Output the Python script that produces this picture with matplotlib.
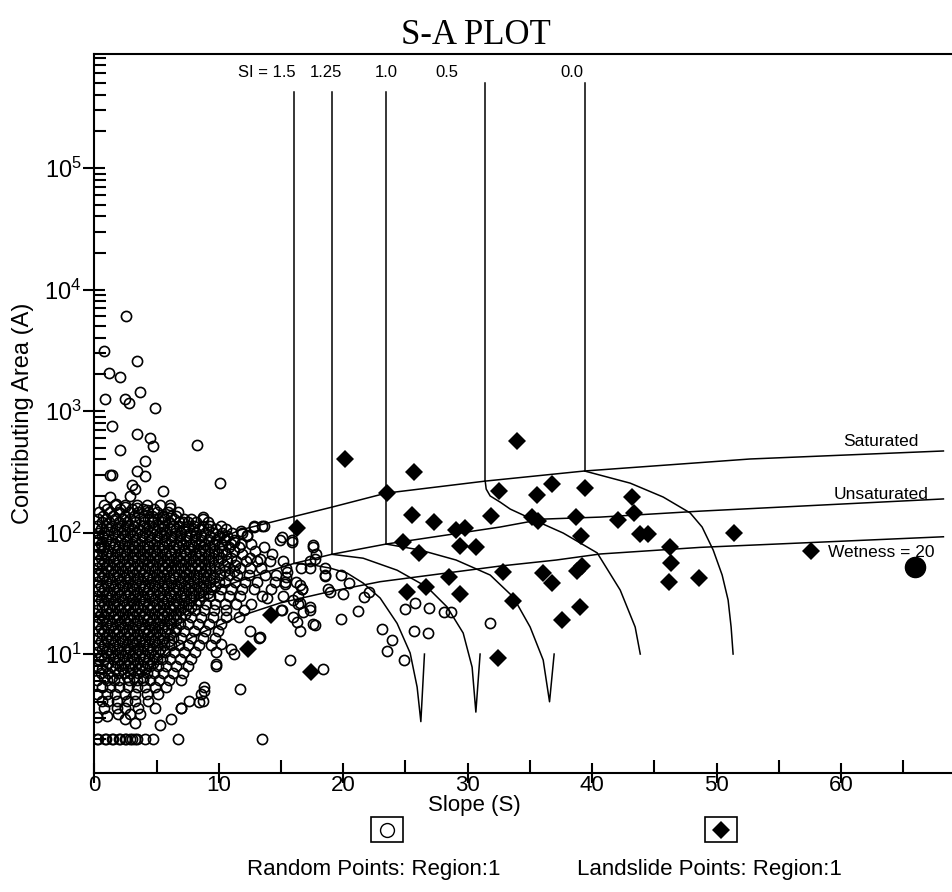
import matplotlib.pyplot as plt
import numpy as np
from matplotlib.ticker import LogLocator, NullFormatter, MultipleLocator
from matplotlib.patches import Rectangle
from matplotlib.lines import Line2D

plt.rcParams['font.family'] = ['Liberation Sans', 'DejaVu Sans']
plt.rcParams['mathtext.fontset'] = 'custom'
plt.rcParams['mathtext.rm'] = 'Liberation Sans'

# ---- random points: dense cluster, one row per contributing-area level ----
cluster_rows = [
    (168, [0.8, 1.7, 2.5, 3.4, 4.2, 5.3, 6.1]),
    (156, [1.0, 2.1, 3.0, 3.9, 4.8]),
    (148, [0.4, 1.3, 2.0, 2.8, 3.5, 4.3, 5.0, 5.9, 6.7]),
    (137, [0.7, 1.5, 2.5, 3.2, 4.0, 4.6, 5.5, 6.2]),
    (129, [0.3, 0.9, 1.7, 2.3, 2.9, 3.7, 4.3, 5.1, 5.7, 6.4, 7.2, 7.8, 8.7]),
    (121, [0.6, 1.2, 2.0, 2.6, 3.3, 4.0, 4.6, 5.4, 6.0, 6.8, 7.5, 8.2, 9.1]),
    (113, [0.2, 0.9, 1.4, 2.1, 2.7, 3.2, 3.9, 4.4, 5.1, 5.6, 6.3, 6.8, 7.5, 8.0, 8.7, 9.3, 10.2, 12.8, 13.5]),
    (106, [0.5, 1.2, 1.8, 2.4, 3.0, 3.6, 4.2, 4.8, 5.4, 6.1, 6.6, 7.2, 7.9, 8.4, 9.1, 9.8, 10.6]),
    (99, [0.3, 0.8, 1.6, 2.2, 2.9, 3.4, 4.1, 4.6, 5.3, 5.8, 6.5, 7.0, 7.7, 8.2, 8.9, 9.5, 10.3, 11.1, 11.9]),
    (93, [0.6, 1.1, 1.9, 2.5, 3.1, 3.8, 4.4, 5.0, 5.6, 6.2, 6.9, 7.4, 8.1, 8.6, 9.3, 10.0, 10.7, 12.3]),
    (87, [0.2, 0.9, 1.4, 2.1, 2.6, 3.3, 3.8, 4.5, 5.0, 5.7, 6.2, 6.9, 7.4, 8.1, 8.6, 9.2, 9.8, 10.5, 11.2, 14.9, 15.9]),
    (81, [0.5, 1.2, 1.7, 2.4, 3.0, 3.6, 4.2, 4.8, 5.4, 6.0, 6.6, 7.1, 7.8, 8.4, 8.9, 9.6, 10.3, 11.0, 11.8, 12.6]),
    (76, [0.3, 0.8, 1.5, 2.0, 2.7, 3.3, 3.9, 4.4, 5.1, 5.6, 6.3, 6.8, 7.5, 8.0, 8.7, 9.3, 10.0, 10.8, 11.6, 13.6, 17.6]),
    (71, [0.6, 1.1, 1.8, 2.4, 3.0, 3.6, 4.2, 4.8, 5.4, 6.0, 6.5, 7.2, 7.7, 8.4, 8.9, 9.6, 10.3, 11.2, 12.9]),
    (67, [0.2, 0.9, 1.4, 2.1, 2.6, 3.3, 3.9, 4.5, 5.0, 5.7, 6.2, 6.9, 7.4, 8.1, 8.6, 9.2, 9.9, 10.6, 11.9, 14.3, 17.8]),
    (62, [0.5, 1.1, 1.7, 2.3, 3.0, 3.5, 4.1, 4.7, 5.3, 5.9, 6.6, 7.1, 7.7, 8.3, 8.9, 9.5, 10.2, 11.0, 12.5]),
    (58, [0.3, 0.8, 1.5, 2.0, 2.6, 3.2, 3.8, 4.4, 5.0, 5.6, 6.2, 6.8, 7.4, 8.0, 8.6, 9.2, 9.9, 10.7, 11.4, 12.2, 13.1, 14.1, 15.2, 17.3]),
    (54, [0.6, 1.2, 1.8, 2.4, 2.9, 3.5, 4.2, 4.7, 5.4, 5.9, 6.5, 7.1, 7.8, 8.3, 8.9, 9.6, 10.4, 11.3]),
    (51, [0.2, 0.9, 1.4, 2.1, 2.7, 3.3, 3.8, 4.5, 5.1, 5.7, 6.2, 6.9, 7.5, 8.1, 8.6, 9.3, 10.0, 10.8, 11.7, 12.5, 13.4, 15.4, 16.6, 18.5]),
    (48, [0.5, 1.1, 1.7, 2.3, 3.0, 3.6, 4.1, 4.8, 5.4, 5.9, 6.6, 7.2, 7.7, 8.4, 9.0, 9.7, 10.5, 11.2]),
    (45, [0.3, 0.8, 1.5, 2.0, 2.6, 3.2, 3.9, 4.4, 5.0, 5.6, 6.3, 6.8, 7.4, 8.0, 8.7, 9.3, 10.1, 10.8, 11.5, 12.4, 13.7, 14.6, 18.5, 19.8]),
    (42, [0.6, 1.2, 1.8, 2.4, 2.9, 3.5, 4.2, 4.7, 5.3, 6.0, 6.5, 7.1, 7.7, 8.3, 9.0, 9.6]),
    (39, [0.2, 0.9, 1.4, 2.1, 2.7, 3.3, 3.8, 4.5, 5.1, 5.6, 6.2, 6.9, 7.5, 8.0, 8.7, 9.3, 10.0, 10.5, 11.3, 12.1, 13.1, 14.5, 15.3, 16.2]),
    (36.5, [0.5, 1.1, 1.7, 2.3, 3.0, 3.6, 4.1, 4.8, 5.4, 5.9, 6.6, 7.2, 7.8, 8.4, 9.0, 9.7]),
    (34, [0.3, 0.8, 1.5, 2.0, 2.6, 3.2, 3.9, 4.4, 5.0, 5.6, 6.3, 6.8, 7.5, 8.1, 8.7, 9.4, 10.2, 11.0, 11.9, 12.8, 14.2, 16.7, 18.8]),
    (32, [0.6, 1.2, 1.8, 2.4, 2.9, 3.5, 4.2, 4.7, 5.3, 6.0, 6.5, 7.1, 7.8, 8.4, 9.1]),
    (30, [0.2, 0.9, 1.4, 2.1, 2.7, 3.3, 3.8, 4.5, 5.1, 5.6, 6.2, 6.9, 7.4, 8.0, 8.7, 9.3, 10.0, 10.8, 11.7, 13.5, 15.2, 16.4]),
    (28, [0.5, 1.1, 1.7, 2.3, 3.0, 3.6, 4.1, 4.8, 5.4, 5.9, 6.6, 7.2, 7.8, 8.4]),
    (26, [0.3, 0.8, 1.5, 2.0, 2.6, 3.2, 3.9, 4.4, 5.0, 5.6, 6.3, 6.8, 7.5, 8.2, 9.0, 9.7, 10.5, 11.4, 12.6, 16.4]),
    (24.5, [0.6, 1.2, 1.8, 2.4, 2.9, 3.5, 4.2, 4.7, 5.3, 6.0, 6.5, 7.1, 7.8]),
    (23, [0.2, 0.9, 1.4, 2.1, 2.7, 3.3, 3.8, 4.5, 5.1, 5.6, 6.2, 6.9, 7.5, 8.1, 8.8, 9.6, 10.6, 12.0, 17.3]),
    (21.5, [0.5, 1.1, 1.7, 2.3, 3.0, 3.6, 4.1, 4.8, 5.4, 5.9, 6.6, 7.3]),
    (20, [0.3, 0.8, 1.5, 2.0, 2.6, 3.2, 3.9, 4.4, 5.0, 5.6, 6.3, 6.9, 7.8, 8.6, 9.5, 10.6, 11.6, 16.0]),
    (19, [0.6, 1.2, 1.8, 2.4, 2.9, 3.5, 4.2, 4.7, 5.3, 6.0, 6.6]),
    (17.7, [0.2, 0.9, 1.4, 2.1, 2.7, 3.3, 3.8, 4.5, 5.1, 5.6, 6.2, 6.9, 7.5, 8.3, 9.2, 10.2, 17.6]),
    (16.5, [0.5, 1.1, 1.7, 2.3, 3.0, 3.6, 4.1, 4.8, 5.4, 5.9, 6.6]),
    (15.5, [0.3, 0.8, 1.5, 2.0, 2.6, 3.2, 3.9, 4.4, 5.0, 5.7, 6.5, 7.2, 8.0, 8.9, 9.9, 12.5]),
    (14.5, [0.6, 1.2, 1.8, 2.4, 2.9, 3.5, 4.2, 4.7, 5.3, 6.1]),
    (13.5, [0.2, 0.9, 1.4, 2.1, 2.7, 3.3, 3.8, 4.5, 5.1, 5.6, 6.3, 7.0, 7.8, 8.7, 9.7]),
    (12.7, [0.5, 1.1, 1.7, 2.3, 3.0, 3.6, 4.1, 4.8, 5.4, 6.0]),
    (11.9, [0.3, 0.8, 1.5, 2.0, 2.6, 3.2, 3.9, 4.4, 5.0, 5.6, 6.2, 6.8, 7.5, 8.4, 9.4]),
    (11.1, [0.6, 1.2, 1.8, 2.4, 2.9, 3.5, 4.2, 4.7, 5.3]),
    (10.4, [0.2, 0.9, 1.4, 2.1, 2.7, 3.3, 3.8, 4.5, 5.1, 5.7, 6.4, 7.2, 8.1, 9.8]),
    (9.7, [0.5, 1.1, 1.7, 2.3, 3.0, 3.6, 4.1, 4.8]),
    (9.1, [0.3, 0.8, 1.5, 2.0, 2.6, 3.2, 3.9, 4.4, 5.0, 5.4, 6.1, 6.9, 7.8]),
    (8.5, [1.1, 1.8, 2.4, 2.9, 3.5, 4.2, 4.7]),
    (8.0, [0.2, 0.9, 1.4, 2.1, 2.7, 3.3, 3.8, 4.5, 5.1, 5.8, 6.6, 7.5, 9.8]),
    (7.5, [0.6, 1.7, 2.3, 3.0, 3.6, 4.1]),
    (7.0, [0.5, 1.1, 1.9, 2.4, 2.9, 3.5, 4.2, 4.8, 5.5, 6.3, 7.1]),
    (6.5, [0.8, 1.4, 2.6, 3.2, 3.9]),
    (6.1, [0.2, 1.0, 1.6, 2.0, 2.8, 3.4, 3.9, 4.5, 5.2, 6.0, 7.0]),
    (5.4, [0.6, 1.3, 2.0, 2.7, 3.4, 4.1, 4.9, 5.8, 8.8]),
    (4.7, [0.2, 1.0, 1.7, 2.5, 3.3, 4.2, 5.1, 8.6]),
    (4.1, [0.6, 1.1, 1.8, 2.6, 3.3, 4.3, 7.6, 8.7]),
    (3.6, [0.8, 1.8, 2.5, 3.5, 4.9, 7.0]),
    (2.0, [0.24, 0.32, 0.86, 0.92, 1.4, 1.53, 2.0, 2.07, 2.5, 2.55, 2.9, 3.0, 3.3, 3.4, 4.08, 4.69, 6.7, 13.5]),
]

# ---- random points outside the cluster (slope, area) ----
outlier_slope = [2.52, 0.78, 3.41, 1.18, 2.04, 3.67, 0.84, 2.44, 2.77, 4.86,
                 1.45, 3.41, 4.45, 4.69, 8.26, 2.04, 4.05, 3.46, 4.08, 1.45,
                 1.3, 10.1, 5.5, 3.0, 3.27, 2.87, 1.26, 1.74, 2.47, 3.41,
                 4.2, 6.09, 6.57, 7.1, 8.7, 5.55, 4.74,
                 0.2, 1.0, 1.9, 2.9, 3.7, 2.5, 3.3, 5.3, 6.2, 7.0, 8.4, 8.8,
                 11.7, 9.8, 15.7, 18.4, 13.3,
                 15.1, 15.9, 17.6, 17.7, 17.3, 15.5, 18.5, 15.3, 16.5, 16.7,
                 16.0, 16.5, 17.3, 16.8, 15.1, 16.3, 16.5, 17.7,
                 18.9, 20.0, 20.5, 22.1, 21.7, 21.2, 19.8,
                 23.1, 23.9, 23.5, 24.9, 25.7, 26.8, 25.0, 25.8, 26.9, 28.1, 28.7, 31.8,
                 13.3, 13.9, 15.0, 15.4, 13.2, 11.2, 10.2, 11.0,
                 11.8, 12.25, 12.8, 13.6, 10.4, 11.2]
outlier_area = [6080, 3130, 2600, 2040, 1915, 1425, 1255, 1250, 1170, 1065,
                757, 643, 603, 518, 522, 480, 387, 320, 293, 297,
                300, 254, 221, 246, 227, 200, 195, 172, 163, 158,
                153, 158, 137, 121, 133, 135, 123,
                3.05, 3.1, 3.2, 3.2, 3.2, 2.9, 2.7, 2.6, 2.9, 3.6, 4.0, 5.0,
                5.2, 8.3, 8.9, 7.5, 13.7,
                92, 84, 79, 61, 51, 47, 44, 38, 37, 34,
                27.8, 26.4, 24.2, 22.3, 23, 18.5, 15.6, 17.3,
                32.6, 31.2, 38.2, 32.6, 29.3, 22.7, 19.3,
                16.1, 13.0, 10.6, 8.9, 15.5, 14.8, 23.3, 26.1, 23.8, 22.3, 22.0, 18.1,
                60, 28.7, 23, 43, 13.5, 10.1, 12.2, 11.1,
                102, 95, 112, 113, 92, 84]

# ---- landslide points ----
slide_slope = [20.15, 25.7, 23.55, 16.27, 25.51, 27.31, 29.08, 29.8, 29.4, 30.68,
               24.79, 26.13, 25.16, 26.64, 28.51, 29.4, 31.87, 32.53, 34.0, 32.88,
               33.63, 35.56, 36.77, 35.16, 35.69, 39.39, 38.72, 39.12, 43.2, 43.33,
               42.12, 43.87, 44.53, 51.37, 46.22, 46.33, 46.14, 48.55, 57.61, 39.18,
               38.8, 36.09, 36.77, 37.57, 38.99, 32.43, 17.44, 14.23, 12.38]
slide_area = [403, 316, 211, 108, 139, 123, 104, 108, 77.4, 76.4,
              84, 68.2, 32.6, 35.4, 42.8, 31, 137, 221, 570, 47.5,
              27.5, 204, 249, 135, 125, 234, 134, 93.5, 197, 144,
              126, 97.3, 97.3, 98.4, 76.4, 55.8, 39.4, 42, 70.8, 53,
              48.2, 46.1, 38.6, 19.1, 24.2, 9.2, 7.1, 21, 11]

marker_slope = [65.97]
marker_area = [52.3]

# ---- stability index lines ----
si_labels = ['SI = 1.5', '1.25', '1.0', '0.5', '0.0']
si_label_x = [16.2, 18.6, 23.42, 28.33, 38.36]
si_vert_x = [16.05, 19.08, 23.45, 31.41, 39.39]
si_vert_top = [4.23e5, 4.23e5, 4.23e5, 5.01e5, 5.01e5]
si_vert_bottom = [55.7, 66.2, 80.4, 265, 321]

si15_s = [16.05, 17.58, 18.94, 20.31, 21.6, 22.97, 24.33, 25.38, 25.94, 26.24, 26.53]
si15_a = [55.7, 54.0, 51.0, 46.4, 38.4, 28.9, 17.9, 10.2, 5.35, 2.78, 10]
si125_s = [19.08, 21.6, 24.33, 26.74, 28.35, 29.64, 30.36, 30.66, 31.0]
si125_a = [66.2, 61.5, 49.0, 35.6, 24.4, 14.9, 7.8, 3.33, 10]
si10_s = [23.45, 26.18, 29.07, 31.81, 33.66, 35.02, 36.07, 36.58, 36.95]
si10_a = [80.4, 71.8, 59.4, 44.7, 29.5, 16.7, 8.93, 4.05, 10]
si05_s = [31.41, 31.49, 31.81, 32.61, 33.42, 35.02, 37.68, 40.41, 42.26, 43.46, 43.87]
si05_a = [265, 228, 200, 178, 156, 131, 99, 68, 33.6, 16.7, 10]
si00_s = [39.39, 43.06, 45.71, 47.88, 48.84, 49.73, 50.45, 50.93, 51.17, 51.33]
si00_a = [321, 255, 196, 145, 111, 71.8, 44.7, 27.8, 16.7, 10]

sat_s = [2.07, 4.48, 8.5, 11.72, 14.94, 19.11, 23.45, 31.41, 39.39, 52.7, 68.23]
sat_a = [18.7, 40.6, 76, 105, 127, 162, 211, 265, 321, 403, 469]
unsat_s = [2.87, 6.17, 10.19, 14.92, 16.05, 19.08, 23.45, 32.61, 36.07, 40.65, 48.69, 68.23]
unsat_a = [10.2, 21.7, 35.6, 51.3, 55.7, 66.2, 80.4, 111, 129, 134, 150, 189]
wet_s = [2.07, 3.67, 6.17, 8.01, 11.71, 14.92, 18.95, 22.97, 32.61, 37.12, 40.65, 48.69, 68.23]
wet_a = [3.6, 6.34, 10.8, 14.1, 20.5, 26.3, 32.7, 39.4, 53, 59.4, 66.6, 75.5, 92.3]

line_names = ['Saturated', 'Unsaturated', 'Wetness = 20']
line_label_a = [558, 204, 68.7]

W, H = 953, 892
fig = plt.figure(figsize=(W / 100, H / 100), dpi=100)
ax = fig.add_axes([94.3 / W, 1 - 773 / H, 1 - 94.3 / W, (773 - 54) / H])

lw = 1.1
for x, top, bot in zip(si_vert_x, si_vert_top, si_vert_bottom):
    ax.plot([x, x], [bot, top], color='black', lw=lw)
for s, a in [(si15_s, si15_a), (si125_s, si125_a), (si10_s, si10_a),
             (si05_s, si05_a), (si00_s, si00_a),
             (sat_s, sat_a), (unsat_s, unsat_a), (wet_s, wet_a)]:
    ax.plot(s, a, color='black', lw=lw)

rs, ra = [], []
for area, slopes in cluster_rows:
    rs += slopes
    ra += [area] * len(slopes)
rs += outlier_slope
ra += outlier_area
ax.plot(rs, ra, 'o', ms=7.3, mfc='none', mec='black', mew=1.2, ls='none')
ax.plot(slide_slope, slide_area, 'D', ms=9.5, color='black', mew=0, ls='none')
ax.plot(marker_slope, marker_area, 'o', ms=14.5, color='black', ls='none')

for lab, x in zip(si_labels, si_label_x):
    ax.text(x, 6.05e5, lab, ha='right' if lab.startswith('SI') else 'center',
            va='center', fontsize=12)
for lab, a in zip(line_names, line_label_a):
    ax.text(63.2, a, lab, ha='center', va='center', fontsize=12.5)

ax.set_yscale('log')
ax.set_xlim(0, 69.0)
ax.set_ylim(1.05, 8.67e5)
ax.xaxis.set_major_locator(MultipleLocator(10))
ax.xaxis.set_minor_locator(MultipleLocator(5))
ax.yaxis.set_major_locator(LogLocator(base=10))
ax.yaxis.set_minor_locator(LogLocator(base=10, subs=np.arange(2, 10)))
ax.yaxis.set_minor_formatter(NullFormatter())

ax.spines['right'].set_visible(False)
for sp in ['left', 'bottom', 'top']:
    ax.spines[sp].set_linewidth(1.5)
ax.tick_params(axis='y', which='major', direction='inout', length=16.5, width=1.5,
               labelsize=17, pad=1)
ax.tick_params(axis='y', which='minor', direction='in', length=8.6, width=1.5)
ax.tick_params(axis='x', which='major', direction='inout', length=14, width=1.5,
               labelsize=16, pad=-5.5)
ax.tick_params(axis='x', which='minor', direction='in', length=9.4, width=1.5)

fig.text(476 / W, 1 - 35 / H, 'S-A PLOT', ha='center', va='center',
         family='Liberation Serif', fontsize=25)
fig.text(474 / W, 1 - 805 / H, 'Slope (S)', ha='center', va='center', fontsize=16)
fig.text(23 / W, 1 - 413 / H, 'Contributing Area (A)', ha='center', va='center',
         rotation=90, fontsize=17)

# legend row under the axis
lg = fig.add_axes([0, 0, 1, 1], facecolor='none')
lg.set_xlim(0, W)
lg.set_ylim(H, 0)
lg.axis('off')
lg.add_patch(Rectangle((371, 817), 32, 25, fill=False, lw=1.2, ec='black'))
lg.add_patch(Rectangle((705, 817), 32, 25, fill=False, lw=1.2, ec='black'))
lg.add_line(Line2D([387], [829.5], marker='o', ms=10, mfc='none', mec='black', mew=1.0))
lg.add_line(Line2D([721], [829.5], marker='D', ms=9.5, color='black', mew=0))
lg.text(374, 869, 'Random Points: Region:1', ha='center', va='center', fontsize=16)
lg.text(709, 869, 'Landslide Points: Region:1', ha='center', va='center', fontsize=16)

fig.savefig('out.png', dpi=100)
